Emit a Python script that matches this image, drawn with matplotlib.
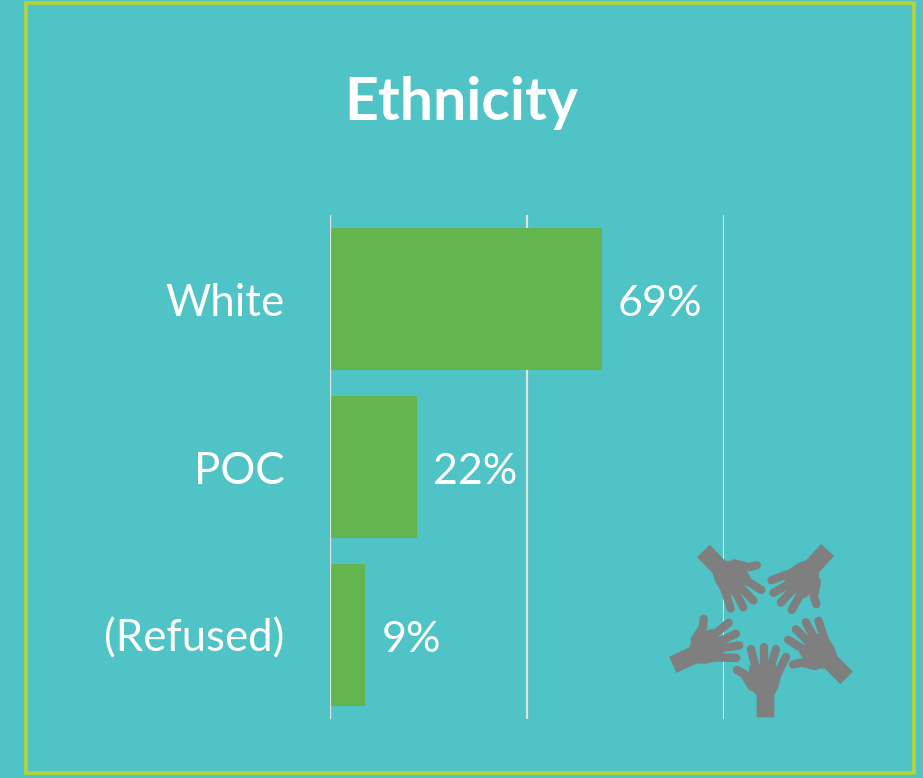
import matplotlib
matplotlib.use('Agg')
import matplotlib.pyplot as plt
from matplotlib.patches import Polygon, Rectangle
from matplotlib.transforms import Affine2D
import numpy as np

categories = ['White', 'POC', '(Refused)']
values = [69, 22, 9]
grid_ticks = [0, 50, 100]

BG = '#4fc3c5'
BAR = '#62b54f'
BORDER = '#b9d432'
GRID = '#dde3e3'
GREY = '#7f7f7f'

W, H = 923, 778
plt.rcParams['font.family'] = ['Lato', 'DejaVu Sans']

fig = plt.figure(figsize=(W / 100, H / 100), dpi=100, facecolor=BG)

# overlay in pixel coords for the frame, title, icon
bg = fig.add_axes([0, 0, 1, 1], zorder=0)
bg.set_xlim(0, W)
bg.set_ylim(H, 0)
bg.axis('off')
bg.add_patch(Rectangle((25.5, 3), 888, 770, fill=False, ec=BORDER, lw=2.6))
bg.text(461, 103, 'Ethnicity', color='white', fontsize=42.5, fontweight='bold',
        ha='center', va='center')

# chart
ax = fig.add_axes([330 / W, 1 - 719 / H, 393.5 / W, (719 - 215) / H], zorder=1)
ax.patch.set_alpha(0)
y = np.arange(len(categories))
ax.barh(y, values, height=0.845, color=BAR, zorder=3)
ax.set_xlim(0, 100)
ax.set_ylim(len(categories) - 0.5, -0.5)
ax.set_xticks(grid_ticks)
ax.set_xticklabels([])
ax.set_yticks(y)
ax.set_yticklabels(categories, color='white', fontsize=31.5)
ax.tick_params(axis='both', length=0)
ax.tick_params(axis='y', pad=32.5)
ax.grid(axis='x', color=GRID, lw=1.6, zorder=1)
ax.axvline(0, color=GRID, lw=1.6, zorder=4)
ax.set_axisbelow(True)
for s in ax.spines.values():
    s.set_visible(False)
for i, v in enumerate(values):
    ax.annotate(str(v) + '%', (v, i), xytext=(11.5, -3.5), textcoords='offset points',
                color='white', fontsize=31, ha='left', va='center', zorder=5)

# hand icon, outline taken from the bottom hand, wrist at (0, 0), in px
palm = np.array([[-15, -41], [-1, -43], [11, -41], [17, -37], [16, -33], [13, -20],
                 [9, -12], [9, 10], [-8, 10], [-8, -12], [-15, -19], [-17, -30]])
fingers = [[(-14, -58), (-9, -38)], [(-1, -60), (-1, -38)],
           [(11, -58), (5, -38)], [(21, -50), (12, -32)]]
thumb = [(-28, -37), (-21, -33), (-13, -20)]
# wrist x, wrist y, rotation in degrees
hands = [(765, 707, 0), (682, 660, 65), (711, 558, 136),
         (821, 558, 223), (839, 671, -45)]

icon = fig.add_axes([0, 0, 1, 1], zorder=2)
icon.set_xlim(0, W)
icon.set_ylim(H, 0)
icon.axis('off')
for hx, hy, rot in hands:
    tr = Affine2D().rotate_deg(rot).translate(hx, hy) + icon.transData
    icon.add_patch(Polygon(palm, closed=True, fc=GREY, ec=GREY, lw=0.5, transform=tr))
    for f in fingers + [thumb]:
        xs, ys = zip(*f)
        icon.plot(xs, ys, color=GREY, lw=6, solid_capstyle='round',
                  solid_joinstyle='round', transform=tr)

fig.savefig('out.png', dpi=100, facecolor=BG)
